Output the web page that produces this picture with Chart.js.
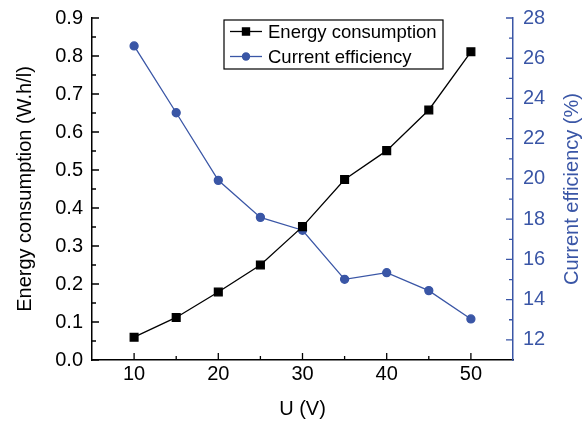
<!DOCTYPE html>
<html>
<head>
<meta charset="utf-8">
<script src="https://cdn.jsdelivr.net/npm/chart.js@4/dist/chart.umd.min.js"></script>
<style>
  body { margin: 0; background: #fff; }
</style>
</head>
<body>
<canvas id="myChart" width="586" height="421"></canvas>
<script>
// voltage steps and the two measured series
var voltage = [10, 15, 20, 25, 30, 35, 40, 45, 50];
var energy = [0.060, 0.112, 0.179, 0.250, 0.351, 0.475, 0.551, 0.658, 0.811];
var efficiency = [26.61, 23.29, 19.93, 18.09, 17.45, 15.01, 15.34, 14.45, 13.04];

var xTicks = [10, 20, 30, 40, 50];
var xMinor = [15, 25, 35, 45];
var energyTicks = [0, 0.1, 0.2, 0.3, 0.4, 0.5, 0.6, 0.7, 0.8, 0.9];
var energyMinor = [0.05, 0.15, 0.25, 0.35, 0.45, 0.55, 0.65, 0.75, 0.85];
var effTicks = [12, 14, 16, 18, 20, 22, 24, 26, 28];
var effMinor = [13, 15, 17, 19, 21, 23, 25, 27];

var BLUE = "#3a56a6";
var FONT = "'Liberation Sans', Arial, Helvetica, sans-serif";

function setTicks(list) {
  return function (scale) {
    scale.ticks = list.map(function (v) { return { value: v }; });
  };
}

// keep the axis boxes at fixed sizes and stop label overhang from moving the plot
function fixBox(w, h) {
  return function (s) {
    if (w) s.width = w;
    if (h) s.height = h;
    s.paddingTop = 0;
    s.paddingBottom = 0;
    s.paddingLeft = 0;
    s.paddingRight = 0;
  };
}

/* inward tick marks, long for labelled values and short in between */
var innerTicks = {
  id: "innerTicks",
  afterDraw: function (chart) {
    var c = chart.ctx, a = chart.chartArea;
    var x = chart.scales.x, y = chart.scales.y, y1 = chart.scales.y1;
    c.save();
    c.lineWidth = 1.3;
    c.strokeStyle = "#000";
    c.beginPath();
    xTicks.forEach(function (v) { var p = x.getPixelForValue(v); c.moveTo(p, a.bottom); c.lineTo(p, a.bottom - 7); });
    xMinor.forEach(function (v) { var p = x.getPixelForValue(v); c.moveTo(p, a.bottom); c.lineTo(p, a.bottom - 4); });
    energyTicks.forEach(function (v) { var p = y.getPixelForValue(v); c.moveTo(a.left, p); c.lineTo(a.left + 7, p); });
    energyMinor.forEach(function (v) { var p = y.getPixelForValue(v); c.moveTo(a.left, p); c.lineTo(a.left + 4, p); });
    c.stroke();
    c.strokeStyle = BLUE;
    c.beginPath();
    effTicks.forEach(function (v) { var p = y1.getPixelForValue(v); c.moveTo(a.right, p); c.lineTo(a.right - 7, p); });
    effMinor.forEach(function (v) { var p = y1.getPixelForValue(v); c.moveTo(a.right, p); c.lineTo(a.right - 4, p); });
    c.stroke();

    // right axis title, reading upwards like the left one
    c.fillStyle = BLUE;
    c.font = "20px " + FONT;
    c.textAlign = "center";
    c.textBaseline = "middle";
    c.translate(y1.right - 14, (a.top + a.bottom) / 2);
    c.rotate(-Math.PI / 2);
    c.fillText("Current efficiency (%)", 0, 0);
    c.restore();
  }
};

/* boxed legend sitting inside the plot */
var boxLegend = {
  id: "boxLegend",
  afterDraw: function (chart) {
    var c = chart.ctx, a = chart.chartArea;
    var left = a.left + 132, top = a.top + 2, w = 219, h = 49;
    c.save();
    c.fillStyle = "#fff";
    c.fillRect(left, top, w, h);
    c.lineWidth = 1.2;
    c.strokeStyle = "#000";
    c.strokeRect(left, top, w, h);
    chart.data.datasets.forEach(function (ds, i) {
      var cy = top + 11.5 + i * 25;
      c.strokeStyle = ds.borderColor;
      c.lineWidth = ds.borderWidth;
      c.beginPath();
      c.moveTo(left + 6, cy);
      c.lineTo(left + 38, cy);
      c.stroke();
      Chart.helpers.drawPoint(c, {
        pointStyle: ds.pointStyle,
        radius: ds.legendRadius,
        borderWidth: 1,
        rotation: 0
      }, left + 22, cy);
      c.fillStyle = ds.pointBackgroundColor;
      c.fill();
      c.fillStyle = "#000";
      c.font = "18.5px " + FONT;
      c.textBaseline = "middle";
      c.textAlign = "left";
      c.fillText(ds.label, left + 44, cy + 1);
    });
    c.restore();
  }
};

var ctx = document.getElementById("myChart").getContext("2d");
var myChart = new Chart(ctx, {
  type: "line",
  data: {
    datasets: [
      {
        label: "Energy consumption",
        data: voltage.map(function (v, i) { return { x: v, y: energy[i] }; }),
        yAxisID: "y",
        borderColor: "#000",
        backgroundColor: "#000",
        pointBackgroundColor: "#000",
        pointBorderColor: "#000",
        pointStyle: "rect",
        pointRadius: 5.5,
        legendRadius: 5,
        borderWidth: 1.3,
        tension: 0
      },
      {
        label: "Current efficiency",
        data: voltage.map(function (v, i) { return { x: v, y: efficiency[i] }; }),
        yAxisID: "y1",
        borderColor: BLUE,
        backgroundColor: BLUE,
        pointBackgroundColor: BLUE,
        pointBorderColor: BLUE,
        pointStyle: "circle",
        pointRadius: 4,
        legendRadius: 3.5,
        borderWidth: 1.3,
        tension: 0
      }
    ]
  },
  options: {
    responsive: false,
    animation: false,
    layout: { padding: { top: 18, left: 0, right: 0, bottom: 0 } },
    plugins: { legend: { display: false }, tooltip: { enabled: false } },
    scales: {
      x: {
        type: "linear",
        min: 5,
        max: 55,
        afterBuildTicks: setTicks(xTicks),
        afterFit: fixBox(0, 61),
        grid: { display: false, drawTicks: false },
        border: { display: true, color: "#000", width: 1.5 },
        ticks: { color: "#000", padding: 2, font: { family: FONT, size: 20 } },
        title: { display: true, text: "U (V)", color: "#000", padding: { top: 0, bottom: 0 }, font: { family: FONT, size: 20 } }
      },
      y: {
        position: "left",
        min: 0,
        max: 0.9,
        afterBuildTicks: setTicks(energyTicks),
        afterFit: fixBox(92, 0),
        grid: { display: false, drawTicks: false },
        border: { display: true, color: "#000", width: 1.5 },
        ticks: {
          color: "#000", padding: 9, font: { family: FONT, size: 20 },
          callback: function (v) { return v.toFixed(1); }
        },
        title: { display: true, text: "Energy consumption (W.h/l)", color: "#000", padding: { top: 13, bottom: 0 }, font: { family: FONT, size: 20 } }
      },
      y1: {
        position: "right",
        min: 11,
        max: 28,
        afterBuildTicks: setTicks(effTicks),
        afterFit: fixBox(73, 0),
        grid: { display: false, drawTicks: false },
        border: { display: true, color: BLUE, width: 1.5 },
        ticks: { color: BLUE, padding: 10, font: { family: FONT, size: 20 } },
        title: { display: false }
      }
    }
  },
  plugins: [innerTicks, boxLegend]
});
</script>
</body>
</html>
